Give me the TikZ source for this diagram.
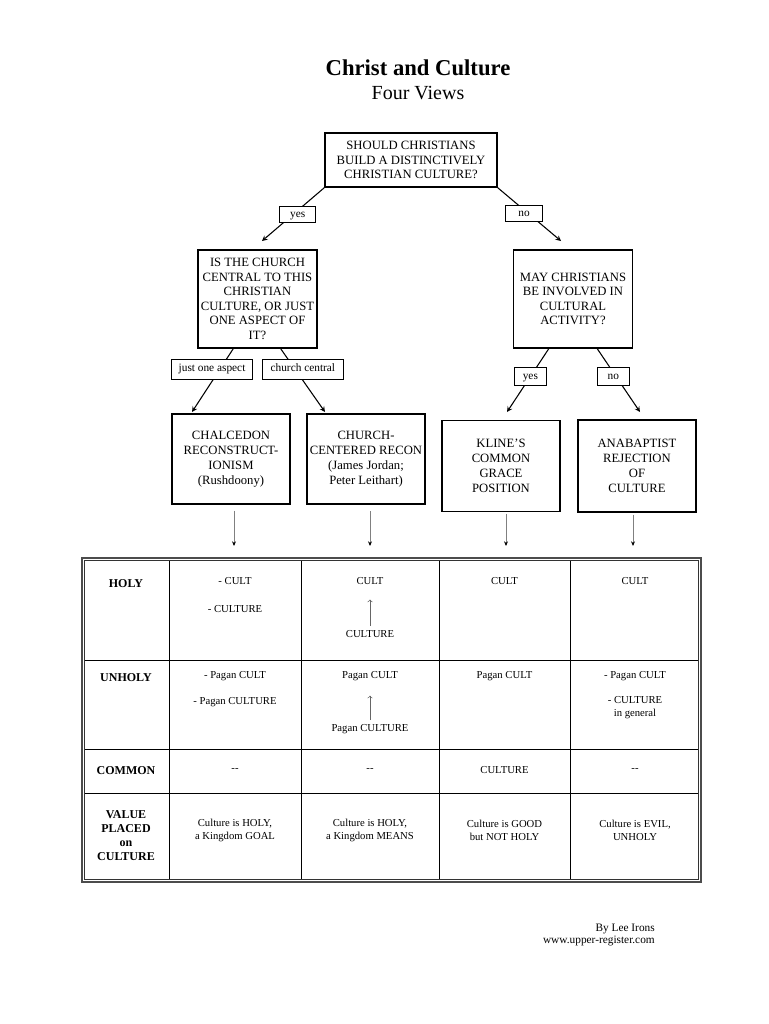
\documentclass[tikz,border=0pt]{standalone}
\usepackage{fontspec}
\setmainfont{Liberation Serif}
\usetikzlibrary{calc,arrows.meta}
\tikzstyle{questionBox}=[shape = rectangle, draw, line width = 1.1pt, align = center, minimum width = 89pt, minimum height = 73.5pt, inner sep = 2pt, font = \fontsize{9.5}{10.9}\selectfont]
\tikzstyle{viewBox}=[shape = rectangle, draw, line width = 1.1pt, align = center, minimum width = 88.5pt, minimum height = 67.5pt, inner sep = 2pt, font = \fontsize{9.5}{11.2}\selectfont]
\tikzstyle{choiceTag}=[shape = rectangle, draw, line width = 0.6pt, fill = white, minimum width = 27pt, minimum height = 12pt, inner sep = 1pt, text height = 5.6pt, text depth = 1.2pt, font = \fontsize{8.5}{10}\selectfont]
\tikzstyle{cellText}=[align = center, inner sep = 0pt, font = \fontsize{8}{9.75}\selectfont]
\tikzstyle{rowHead}=[align = center, inner sep = 0pt, font = \fontsize{9}{10.5}\selectfont\bfseries]

\begin{document}
\begin{tikzpicture}[x = 0.75pt, y = -0.75pt, >=stealth]
\tikzstyle{downArrow} = [-{Stealth[length = 3.5pt, width = 3pt, black]}, line width = 0.6pt, draw = black!50]
\tikzstyle{cellArrow} = [-to, line width = 0.5pt, draw = black!60]
\tikzstyle{gridLine} = [line width = 0.6pt]
\useasboundingbox (0,0) rectangle (768,1024);
% title
\node[font = \fontsize{17}{20}\selectfont\bfseries] (t0) at (418,68) {Christ and Culture};
\node[font = \fontsize{15}{18}\selectfont] (t1) at (418,93) {Four Views};
% questions
\node[questionBox, minimum width = 129pt, minimum height = 40.5pt] (q0) at (411,160) {SHOULD CHRISTIANS\\BUILD A DISTINCTIVELY\\CHRISTIAN CULTURE?};
\node[questionBox] (q1) at (257.5,299) {IS THE CHURCH\\CENTRAL TO THIS\\CHRISTIAN\\CULTURE, OR JUST\\ONE ASPECT OF\\IT?};
\node[questionBox] (q2) at (573,299) {MAY CHRISTIANS\\BE INVOLVED IN\\CULTURAL\\ACTIVITY?};
% views
\node[viewBox] (b1) at (231,459) {CHALCEDON\\RECONSTRUCT-\\IONISM\\(Rushdoony)};
\node[viewBox, line width = 1.5pt] (b2) at (366,459) {CHURCH-\\CENTERED RECON\\(James Jordan;\\Peter Leithart)};
\node[viewBox, line width = 0.8pt, minimum height = 68pt] (b3) at (501,466) {KLINE'S\\COMMON\\GRACE\\POSITION};
\node[viewBox, line width = 0.8pt, minimum height = 69pt] (b4) at (637,466) {ANABAPTIST\\REJECTION\\OF\\CULTURE};
% arrow tips
\coordinate (a1) at (262,241);
\coordinate (a2) at (561,241);
\coordinate (a3) at (192,412);
\coordinate (a4) at (325,412);
\coordinate (a5) at (507,412);
\coordinate (a6) at (640,412);
\draw[->, line width = 0.8pt] (q0.south west) -- node[choiceTag, xshift = 3.4pt] (e1) {yes} (a1);
\draw[->, line width = 0.8pt] (q0.south east) -- node[choiceTag, pos = 0.48, xshift = -3pt, minimum width = 28pt] (e2) {no} (a2);
\draw[->, line width = 0.8pt] (q1.244) -- node[choiceTag, pos = 0.32, xshift = -6pt, minimum width = 61pt, minimum height = 15pt] (e3) {just one aspect} (a3);
\draw[->, line width = 0.8pt] (q1.295) -- node[choiceTag, pos = 0.32, xshift = 6pt, minimum width = 61pt, minimum height = 15pt] (e4) {church central} (a4);
\draw[->, line width = 0.8pt] (q2.244) -- node[choiceTag, pos = 0.44, minimum width = 24pt, minimum height = 13.5pt] (e5) {yes} (a5);
\draw[->, line width = 0.8pt] (q2.296) -- node[choiceTag, pos = 0.44, xshift = -2pt, minimum width = 24pt, minimum height = 13.5pt] (e6) {no} (a6);
% into the table
\coordinate (d1) at (234,546);
\coordinate (d2) at (370,546);
\coordinate (d3) at (506,546);
\coordinate (d4) at (633,546);
\draw[downArrow] ($(b1.south -| d1) + (0,6)$) -- (d1);
\draw[downArrow] ($(b2.south -| d2) + (0,6)$) -- (d2);
\draw[downArrow] ($(b3.south -| d3) + (0,2)$) -- (d3);
\draw[downArrow] ($(b4.south -| d4) + (0,2)$) -- (d4);
% table
\foreach \x in {169,301,439,570}
  \draw[gridLine] (\x,560) -- (\x,880);
\foreach \y in {660,749,793}
  \draw[gridLine] (84,\y) -- (699,\y);
\draw[line width = 0.9pt, draw = black!70] (82,558) rectangle (701,882);
\draw[line width = 0.6pt, draw = black!80] (84.5,560.5) rectangle (698.5,879.5);
% holy
\node[rowHead] (h0) at (126,584) {HOLY};
\node[cellText] (h1) at (235,581) {- CULT};
\node[cellText] (h2) at (235,609) {- CULTURE};
\node[cellText] (h3) at (370,581) {CULT};
\node[cellText] (h4) at (370,634) {CULTURE};
\node[cellText] (h5) at (504.5,581) {CULT};
\node[cellText] (h6) at (635,581) {CULT};
\draw[cellArrow, shorten < = 3pt, shorten > = 11pt] (h4) -- (h3);
% unholy
\node[rowHead] (u0) at (126,678) {UNHOLY};
\node[cellText] (u1) at (235,676) {- Pagan CULT};
\node[cellText] (u2) at (235,702) {- Pagan CULTURE};
\node[cellText] (u3) at (370,676) {Pagan CULT};
\node[cellText] (u4) at (370,729) {Pagan CULTURE};
\node[cellText] (u5) at (504.5,676) {Pagan CULT};
\node[cellText] (u6) at (635,676) {- Pagan CULT};
\node[cellText] (u7) at (635,708) {- CULTURE\\in general};
\draw[cellArrow, shorten < = 3pt, shorten > = 11pt] (u4) -- (u3);
% common
\node[rowHead] (c0) at (126,771) {COMMON};
\node[cellText] (c1) at (235,770) {{-}{-}};
\node[cellText] (c2) at (370,770) {{-}{-}};
\node[cellText] (c3) at (504.5,770) {CULTURE};
\node[cellText] (c4) at (635,770) {{-}{-}};
% value
\node[rowHead] (v0) at (126,836) {VALUE\\PLACED\\on\\CULTURE};
\node[cellText] (v1) at (235,830) {Culture is HOLY,\\a Kingdom GOAL};
\node[cellText] (v2) at (370,830) {Culture is HOLY,\\a Kingdom MEANS};
\node[cellText] (v3) at (504.5,830) {Culture is GOOD\\but NOT HOLY};
\node[cellText] (v4) at (635,830) {Culture is EVIL,\\UNHOLY};
% footer
\node[cellText, anchor = east, font = \fontsize{8.5}{10}\selectfont] (f0) at (655,929) {By Lee Irons};
\node[cellText, anchor = east, font = \fontsize{8.5}{10}\selectfont] (f1) at (655,941) {www.upper-register.com};
\end{tikzpicture}
\end{document}
